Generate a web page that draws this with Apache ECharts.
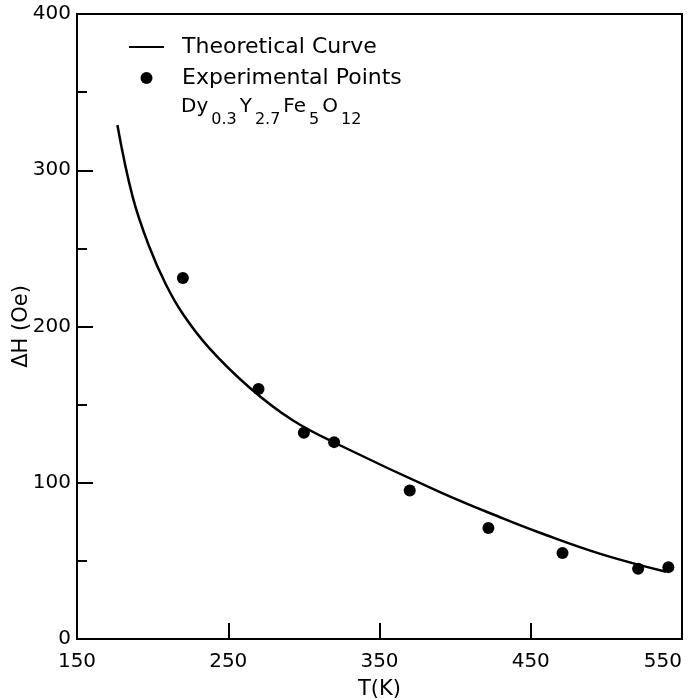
<!DOCTYPE html>
<html>
<head>
<meta charset="utf-8">
<script src="https://cdn.jsdelivr.net/npm/echarts@6/dist/echarts.min.js"></script>
<style>
html, body { margin: 0; padding: 0; background: #fff; }
#chart { width: 689px; height: 699px; }
</style>
</head>
<body>
<div id="chart"></div>
<script>
// theoretical curve
var curveT = [176.7, 186.8, 197.8, 208.7, 220, 237.6, 264, 292.6, 323.8, 390, 432, 456, 496, 539.5];
var curveH = [329, 283, 251, 227, 208, 186, 161, 140, 124, 94, 77, 68, 54.5, 43];

// experimental points
var expT = [220, 270, 300, 320, 370, 422, 471, 521, 541];
var expH = [231, 160, 132, 126, 95, 71, 55, 45, 46];

var xTicks = [150, 550, 100];   // min, max, step
var yTicks = [0, 400, 100];

var font = 'DejaVu Sans';

function pairs(xs, ys) {
    return xs.map(function (x, i) { return [x, ys[i]]; });
}

var chartDom = document.getElementById('chart');
var myChart = echarts.init(chartDom);

var axisCommon = {
    type: 'value',
    splitLine: { show: false },
    axisLine: { lineStyle: { color: '#000', width: 2 } },
    axisTick: { inside: true, length: 16, lineStyle: { color: '#000', width: 2 } },
    axisLabel: { color: '#000', fontSize: 20, fontFamily: font },
    nameLocation: 'middle',
    nameMoveOverlap: false,
    nameTextStyle: { color: '#000', fontSize: 21, fontFamily: font }
};

var option = {
    backgroundColor: '#fff',
    animation: false,
    grid: {
        left: 77, right: 7, top: 14, bottom: 60,
        outerBoundsMode: 'none',
        containLabel: false,
        show: true, borderColor: '#000', borderWidth: 2
    },
    xAxis: Object.assign({}, axisCommon, {
        min: xTicks[0], max: xTicks[1], interval: xTicks[2],
        name: 'T(K)', nameGap: 40,
        axisLabel: Object.assign({}, axisCommon.axisLabel, { margin: 13, alignMaxLabel: 'right' })
    }),
    yAxis: Object.assign({}, axisCommon, {
        min: yTicks[0], max: yTicks[1], interval: yTicks[2],
        name: 'ΔH (Oe)', nameGap: 45, nameRotate: 90,
        minorTick: { show: true, splitNumber: 2, length: 10, lineStyle: { color: '#000', width: 2 } },
        axisLabel: Object.assign({}, axisCommon.axisLabel, { margin: 6 })
    }),
    legend: {
        orient: 'vertical',
        left: 128, top: 36,
        padding: 0,
        itemWidth: 35, itemHeight: 12, itemGap: 9,
        textStyle: { color: '#000', fontSize: 22, fontFamily: font, padding: [0, 0, 0, 13] },
        data: [
            { name: 'Theoretical Curve', itemStyle: { opacity: 0 } },
            { name: 'Experimental Points', icon: 'circle' }
        ]
    },
    graphic: [{
        type: 'text',
        left: 181, top: 97,
        style: {
            text: '{m|Dy}{s|0.3}{m|Y}{s|2.7}{m|Fe}{s|5}{m|O}{s|12}',
            fill: '#000',
            rich: {
                m: { fontSize: 20, fontFamily: font, lineHeight: 22, verticalAlign: 'top', fill: '#000' },
                s: { fontSize: 16, fontFamily: font, lineHeight: 31, verticalAlign: 'bottom', padding: [0, 3, 0, 3], fill: '#000' }
            }
        }
    }],
    series: [{
        name: 'Theoretical Curve',
        type: 'line',
        smooth: 0.4,
        symbol: 'none',
        lineStyle: { color: '#000', width: 2.5 },
        itemStyle: { color: '#000' },
        data: pairs(curveT, curveH)
    }, {
        name: 'Experimental Points',
        type: 'scatter',
        symbolSize: 12,
        itemStyle: { color: '#000', opacity: 1 },
        data: pairs(expT, expH)
    }]
};

myChart.setOption(option);

window.addEventListener('resize', function () {
    myChart.resize();
});
</script>
</body>
</html>
